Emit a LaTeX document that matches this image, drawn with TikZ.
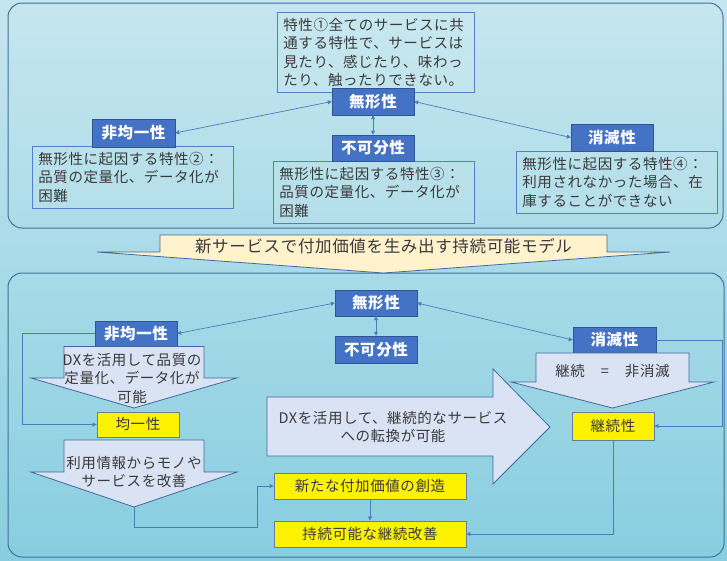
\documentclass[tikz,border=0pt]{standalone}
\usepackage{fontspec}
\setmainfont[LetterSpace=4]{Noto Sans CJK JP}
\usetikzlibrary{arrows.meta}

\definecolor{bgtop}{HTML}{C6E6EF}
\definecolor{bgbottom}{HTML}{88CEE0}
\definecolor{panelblue}{HTML}{41719C}
\definecolor{hdrblue}{HTML}{4472C4}
\definecolor{hdrline}{HTML}{2F5597}
\definecolor{boxline}{HTML}{4F81C7}
\definecolor{txtgray}{HTML}{3A3A3A}
\definecolor{arrfill}{HTML}{DAE3F3}
\definecolor{arrline}{HTML}{41699F}
\definecolor{bannerfill}{HTML}{FFF2CC}
\definecolor{yline}{HTML}{5F7FA6}
\definecolor{linkblue}{HTML}{4A7EBB}

\begin{document}
\begin{tikzpicture}[x=1pt,y=-1pt,
  panel/.style={draw=panelblue,line width=1pt,rounded corners=14pt},
  hdr/.style={draw=hdrline,fill=hdrblue,text=white,font=\fontsize{15.5}{18}\selectfont\bfseries,
    minimum width=82pt,minimum height=27pt,inner sep=0pt},
  txtbox/.style={draw=boxline,line width=0.8pt,fill=white,fill opacity=0.08,text opacity=1,text=txtgray,
    font=\fontsize{14.5}{18.5}\selectfont,align=left,anchor=north west,
    inner xsep=6pt,inner ysep=5pt,text width=189pt,minimum height=62pt},
  ybox/.style={draw=yline,line width=0.8pt,fill=yellow,text=txtgray,font=\fontsize{14.5}{18}\selectfont,
    minimum width=82pt,minimum height=26pt,inner sep=0pt},
  fatarrow/.style={draw=arrline,fill=arrfill,line width=0.8pt,line join=miter},
  body/.style={text=txtgray,font=\fontsize{14.5}{18.5}\selectfont,align=center,inner sep=0pt},
  link/.style={draw=linkblue,line width=0.7pt,-{Triangle[length=4pt,width=4pt]}},
  dbl/.style={link,{Triangle[length=4pt,width=4pt]}-{Triangle[length=4pt,width=4pt]}}
]

% #1 style, #2 x, #3 top, #4 shoulder, #5 tip, #6 half shaft, #7 half head, #8 tip name
\newcommand{\fatdown}[8]{%
  \draw [#1] (#2-#6,#3) -- (#2+#6,#3) -- (#2+#6,#4) -- (#2+#7,#4) -- (#2,#5)
    -- (#2-#7,#4) -- (#2-#6,#4) -- cycle;
  \coordinate (#8) at (#2,#5);
}

\useasboundingbox (0,0) rectangle (727,560);
\shade [top color=bgtop,bottom color=bgbottom] (0,0) rectangle (727,560);

% panels
\draw [panel] (8,3) rectangle (723,228);
\draw [panel] (8,273) rectangle (724,557);

% top: characteristics
\node [txtbox,text width=185pt,minimum height=80pt] (feat1) at (277,12)
  {特性①全てのサービスに共\\通する特性で、サービスは\\見たり、感じたり、味わっ\\たり、触ったりできない。};
\node [txtbox] (hik1b) at (32,146) {無形性に起因する特性②：\\品質の定量化、データ化が\\困難};
\node [txtbox] (fkb1b) at (273,161) {無形性に起因する特性③：\\品質の定量化、データ化が\\困難};
\node [txtbox] (shm1b) at (516,151) {無形性に起因する特性④：\\利用されなかった場合、在\\庫することができない};

\node [hdr] (hmk1) at (373,101.5) {無形性};
\node [hdr,minimum height=26pt] (fkb1) at (373,148) {不可分性};
\node [hdr,minimum width=83pt,minimum height=28pt] (hik1) at (133.5,133) {非均一性};
\node [hdr] (shm1) at (612,137.5) {消滅性};

\draw [dbl] (hmk1.west) -- (hik1.east);
\draw [dbl] (hmk1.east) -- (shm1.west);
\draw [dbl] (hmk1.south) -- (fkb1.north);

% banner
\fatdown{fatarrow,fill=bannerfill}{383.5}{235}{252}{273}{223.5}{286.5}{bantip}
\node [body,font=\fontsize{16.5}{20}\selectfont] (banner) at (383.5,246)
  {新サービスで付加価値を生み出す持続可能モデル};

% bottom: headers
\node [hdr,minimum height=26pt] (hmk2) at (376,303) {無形性};
\node [hdr] (fkb2) at (376,349.5) {不可分性};
\node [hdr,minimum height=25pt] (hik2) at (136,333.5) {非均一性};
\node [hdr,minimum width=83pt,minimum height=26pt] (shm2) at (614.5,340) {消滅性};

\draw [dbl] (hmk2.west) -- (hik2.east);
\draw [dbl] (hmk2.east) -- (shm2.west);
\draw [dbl] (hmk2.south) -- (fkb2.north);

% left column
\fatdown{fatarrow}{134}{346.5}{378}{408}{70}{103}{tipA}
\node [body] (dxq) at (132,378) {DXを活用して品質の\\定量化、データ化が\\可能};
\node [ybox,minimum height=25pt] (kin) at (138,424.5) {均一性};
\fatdown{fatarrow}{134}{440}{472}{507}{70}{103}{tipB}
\node [body] (use) at (134,472) {利用情報からモノや\\サービスを改善};

% centre
\draw [fatarrow] (267,397) -- (493,397) -- (493,369) -- (550,427) -- (493,484)
  -- (493,456) -- (267,456) -- cycle;
\node [body] (dxs) at (393,427) {DXを活用して、継続的なサービス\\への転換が可能};
\node [ybox,minimum width=192pt] (sin) at (370,486) {新たな付加価値の創造};
\node [ybox,minimum width=192pt] (jzk) at (370,534) {持続可能な継続改善};

% right column
\fatdown{fatarrow}{612.5}{353}{382}{408}{76.5}{101.5}{tipC}
\node [body] (eq) at (612.5,371) {継続\hspace{16pt}=\hspace{16pt}非消滅};
\node [ybox,minimum height=28pt] (kes) at (613,426) {継続性};

% loops
\coordinate (bendB) at (257,527);
\draw [link] (hik2.west) -- ++(-72,0) |- (kin.west);
\draw [link] (tipB) |- (bendB) |- (sin.west);
\draw [link] (sin.south) -- (jzk.north);
\draw [link] (shm2.east) -- ++(66,0) |- (kes.east);
\draw [link] (kes.south) |- (jzk.east);

\end{tikzpicture}
\end{document}
